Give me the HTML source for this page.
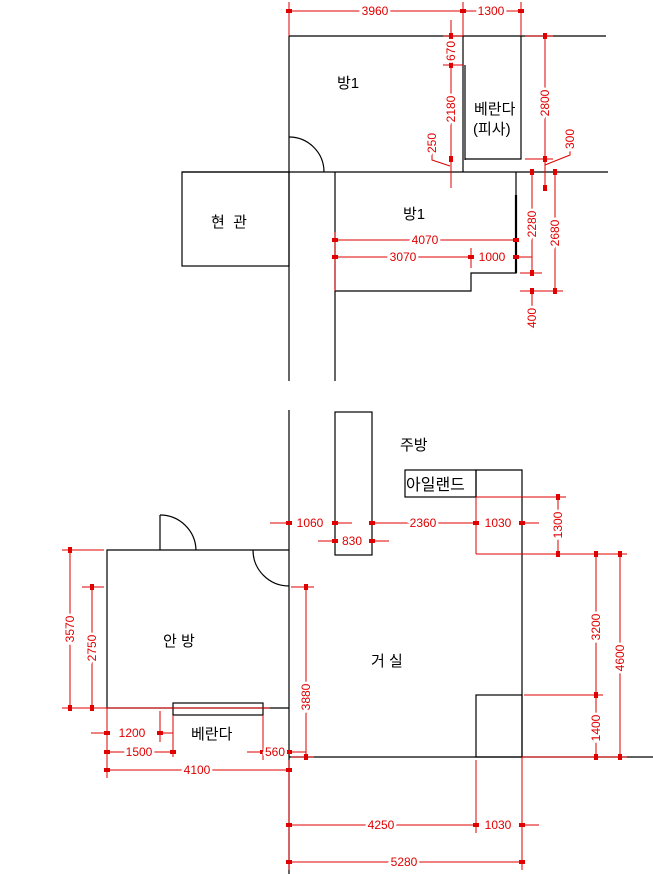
<!DOCTYPE html>
<html><head><meta charset="utf-8"><style>
html,body{margin:0;padding:0;background:#fff;width:653px;height:874px;overflow:hidden}
svg{display:block}
.k{stroke:#000;stroke-width:1.2;fill:none}
.r{stroke:#e00000;stroke-width:1;fill:none}
.t{font-family:"Liberation Sans","Noto Sans CJK KR",sans-serif;font-size:15px;fill:#000}
.d{font-family:"Liberation Sans",sans-serif;font-size:12px;fill:#e00000;stroke:#fff;stroke-width:5;paint-order:stroke;text-anchor:middle;dominant-baseline:central}
</style></head><body>
<svg width="653" height="874" viewBox="0 0 653 874">
<defs><marker id="a" markerWidth="6" markerHeight="4" refX="3" refY="2" orient="auto" markerUnits="userSpaceOnUse"><rect width="6" height="4" fill="#e00000"/></marker></defs>
<g class="k">
<line x1="289" y1="36" x2="606" y2="36"/>
<line x1="289" y1="36" x2="289" y2="381"/>
<line x1="335" y1="172" x2="335" y2="381"/>
<line x1="182" y1="172" x2="608" y2="172"/>
<rect x="182" y="172" width="107" height="94"/>
<path d="M289 137 A35 35 0 0 1 324 172"/>
<line x1="463" y1="36" x2="463" y2="172"/>
<line x1="465" y1="65" x2="465" y2="160"/>
<polyline points="465,159 521,159 521,36"/>
<polyline points="516,172 516,273 471,273 471,291 335,291"/>
<line x1="516" y1="195" x2="516" y2="273" stroke-width="2.2"/>
</g>
<text class="t" x="337" y="88">방1</text>
<text class="t" x="403" y="219">방1</text>
<text class="t" x="474" y="114">베란다</text>
<text class="t" x="473" y="134">(피사)</text>
<text class="t" x="211" y="227">현&#160;&#160;관</text>
<g class="r">
<line x1="289" y1="2" x2="289" y2="36"/><line x1="463" y1="2" x2="463" y2="36"/><line x1="521" y1="2" x2="521" y2="36"/>
<line x1="289" y1="11" x2="463" y2="11" marker-start="url(#a)" marker-end="url(#a)"/>
<line x1="463" y1="11" x2="521" y2="11" marker-start="url(#a)" marker-end="url(#a)"/>
<line x1="451" y1="20" x2="451" y2="188"/>
<line x1="443" y1="65" x2="463" y2="65"/><line x1="443" y1="36" x2="463" y2="36"/>
<line x1="451" y1="36" x2="451" y2="65" marker-start="url(#a)" marker-end="url(#a)"/>
<line x1="451" y1="65" x2="451" y2="159" marker-start="url(#a)" marker-end="url(#a)"/>
<polyline points="432,152 432,160 450,166"/>
<line x1="525" y1="36" x2="553" y2="36"/><line x1="525" y1="159" x2="553" y2="159"/>
<line x1="545" y1="36" x2="545" y2="159" marker-start="url(#a)" marker-end="url(#a)"/>
<line x1="545" y1="159" x2="545" y2="188" marker-end="url(#a)"/>
<polyline points="570,148 570,155 545,165"/>
<line x1="520" y1="273" x2="542" y2="273"/><line x1="520" y1="291" x2="563" y2="291"/>
<line x1="532" y1="172" x2="532" y2="273" marker-start="url(#a)" marker-end="url(#a)"/>
<line x1="555" y1="172" x2="555" y2="291" marker-start="url(#a)" marker-end="url(#a)"/>
<line x1="532" y1="291" x2="532" y2="330" marker-start="url(#a)"/>
<line x1="335" y1="232" x2="335" y2="291"/><line x1="471" y1="248" x2="471" y2="268"/>
<line x1="335" y1="240" x2="516" y2="240" marker-start="url(#a)" marker-end="url(#a)"/>
<line x1="335" y1="257" x2="471" y2="257" marker-start="url(#a)" marker-end="url(#a)"/>
<line x1="516" y1="257" x2="532" y2="257" marker-start="url(#a)"/>
</g>
<text class="d" x="375" y="11">3960</text><text class="d" x="491" y="11">1300</text>
<text class="d" transform="translate(451,51) rotate(-90)">670</text>
<text class="d" transform="translate(451,109) rotate(-90)">2180</text>
<text class="d" transform="translate(432,143) rotate(-90)">250</text>
<text class="d" transform="translate(545,103) rotate(-90)">2800</text>
<text class="d" transform="translate(570,139) rotate(-90)">300</text>
<text class="d" transform="translate(532,224) rotate(-90)">2280</text>
<text class="d" transform="translate(555,233) rotate(-90)">2680</text>
<text class="d" transform="translate(532,318) rotate(-90)">400</text>
<text class="d" x="425" y="240">4070</text><text class="d" x="403" y="257">3070</text><text class="d" x="492" y="257">1000</text>
<g class="k">
<line x1="289" y1="410" x2="289" y2="874"/>
<rect x="335" y="412" width="37" height="143"/>
<rect x="405" y="470" width="71" height="27"/>
<polyline points="476,497 476,470 522,470 522,757"/>
<rect x="476" y="695" width="46" height="62"/>
<line x1="289" y1="757" x2="653" y2="757"/>
<polyline points="289,550 107,550 107,708 289,708"/>
<polyline points="160,550 160,515"/><path d="M160 515 A36 36 0 0 1 196 550"/>
<path d="M253 550 A36 36 0 0 0 289 586"/>
<rect x="173" y="703" width="90" height="12"/>
</g>
<text class="t" x="400" y="450">주방</text>
<text class="t" x="406" y="490" style="font-size:16px">아일랜드</text>
<text class="t" x="371" y="666">거 실</text>
<text class="t" x="163" y="646">안 방</text>
<text class="t" x="191" y="739">베란다</text>
<g class="r">
<line x1="476" y1="497" x2="476" y2="554"/><line x1="476" y1="554" x2="627" y2="554"/>
<line x1="476" y1="497" x2="566" y2="497"/>
<line x1="558" y1="497" x2="558" y2="554" marker-start="url(#a)" marker-end="url(#a)"/>
<line x1="270" y1="523" x2="289" y2="523" marker-end="url(#a)"/>
<line x1="335" y1="523" x2="352" y2="523" marker-start="url(#a)"/>
<line x1="372" y1="523" x2="476" y2="523" marker-start="url(#a)" marker-end="url(#a)"/>
<line x1="522" y1="523" x2="539" y2="523" marker-start="url(#a)"/>
<line x1="318" y1="541" x2="335" y2="541" marker-end="url(#a)"/>
<line x1="372" y1="541" x2="389" y2="541" marker-start="url(#a)"/>
<line x1="524" y1="695" x2="603" y2="695"/>
<line x1="596" y1="554" x2="596" y2="695" marker-start="url(#a)" marker-end="url(#a)"/>
<line x1="596" y1="695" x2="596" y2="757" marker-start="url(#a)" marker-end="url(#a)"/>
<line x1="620" y1="554" x2="620" y2="757" marker-start="url(#a)" marker-end="url(#a)"/>
<line x1="522" y1="757" x2="627" y2="757"/>
<line x1="62" y1="550" x2="104" y2="550"/><line x1="82" y1="587" x2="104" y2="587"/>
<line x1="62" y1="708" x2="270" y2="708"/>
<line x1="70" y1="550" x2="70" y2="708" marker-start="url(#a)" marker-end="url(#a)"/>
<line x1="92" y1="587" x2="92" y2="708" marker-start="url(#a)" marker-end="url(#a)"/>
<line x1="291" y1="587" x2="314" y2="587"/><line x1="291" y1="757" x2="314" y2="757"/>
<line x1="306" y1="587" x2="306" y2="757" marker-start="url(#a)" marker-end="url(#a)"/>
<line x1="107" y1="708" x2="107" y2="778"/><line x1="173" y1="715" x2="173" y2="757"/>
<line x1="160" y1="711" x2="160" y2="742"/><line x1="263" y1="715" x2="263" y2="760"/>
<line x1="289" y1="760" x2="289" y2="870"/><line x1="476" y1="760" x2="476" y2="833"/><line x1="522" y1="757" x2="522" y2="870"/>
<line x1="91" y1="733" x2="107" y2="733" marker-end="url(#a)"/>
<line x1="160" y1="733" x2="173" y2="733" marker-start="url(#a)"/>
<line x1="107" y1="752" x2="173" y2="752" marker-start="url(#a)" marker-end="url(#a)"/>
<line x1="247" y1="752" x2="263" y2="752" marker-end="url(#a)"/>
<line x1="289" y1="752" x2="306" y2="752" marker-start="url(#a)"/>
<line x1="275" y1="770" x2="289" y2="770" marker-end="url(#a)"/>
<line x1="107" y1="770" x2="289" y2="770" marker-start="url(#a)" marker-end="url(#a)"/>
<line x1="289" y1="825" x2="476" y2="825" marker-start="url(#a)" marker-end="url(#a)"/>
<line x1="522" y1="825" x2="539" y2="825" marker-start="url(#a)"/>
<line x1="289" y1="862" x2="522" y2="862" marker-start="url(#a)" marker-end="url(#a)"/>
</g>
<text class="d" x="310" y="523">1060</text><text class="d" x="352" y="541">830</text>
<text class="d" x="423" y="523">2360</text><text class="d" x="498" y="523">1030</text>
<text class="d" transform="translate(558,525) rotate(-90)">1300</text>
<text class="d" transform="translate(596,627) rotate(-90)">3200</text>
<text class="d" transform="translate(596,728) rotate(-90)">1400</text>
<text class="d" transform="translate(620,658) rotate(-90)">4600</text>
<text class="d" transform="translate(70,629) rotate(-90)">3570</text>
<text class="d" transform="translate(92,648) rotate(-90)">2750</text>
<text class="d" transform="translate(306,697) rotate(-90)">3880</text>
<text class="d" x="132" y="733">1200</text><text class="d" x="139" y="752">1500</text>
<text class="d" x="275" y="752">560</text><text class="d" x="197" y="770">4100</text>
<text class="d" x="381" y="825">4250</text><text class="d" x="498" y="825">1030</text>
<text class="d" x="404" y="862">5280</text>
</svg>
</body></html>
